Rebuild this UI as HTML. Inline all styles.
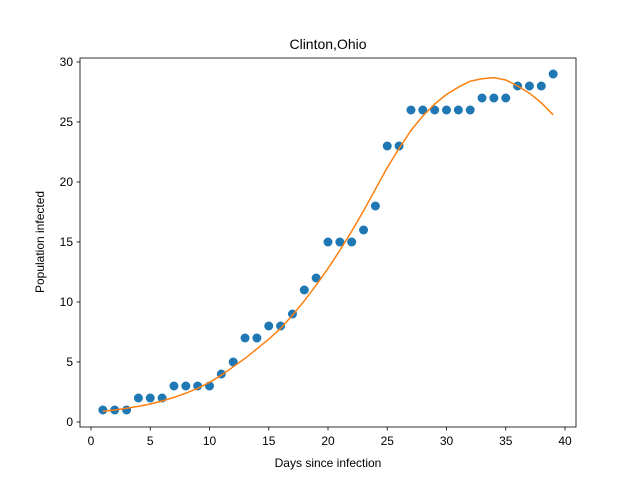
<!DOCTYPE html>
<html><head><meta charset="utf-8"><style>
body{margin:0;background:#fff}
svg{font-family:"Liberation Sans","DejaVu Sans",sans-serif}
</style></head><body>
<svg id="chart" width="640" height="480">
<rect width="640" height="480" fill="#fff"/>
<text x="328" y="49" font-size="14" text-anchor="middle">Clinton,Ohio</text>
<g id="marks"></g>
<rect x="80" y="58" width="496" height="369" fill="none" stroke="#000" stroke-width="0.8"/>
<g id="axes"></g>
<text x="328" y="467" font-size="12" text-anchor="middle">Days since infection</text>
<text transform="translate(44,242) rotate(-90)" font-size="12" text-anchor="middle">Population infected</text>
</svg>
<script>
const days = [1,2,3,4,5,6,7,8,9,10,11,12,13,14,15,16,17,18,19,20,21,22,23,24,25,26,27,28,29,30,31,32,33,34,35,36,37,38,39];
const infected = [1,1,1,2,2,2,3,3,3,3,4,5,7,7,8,8,9,11,12,15,15,15,16,18,23,23,26,26,26,26,26,26,27,27,27,28,28,28,29];
const fitted = [0.9,1.0,1.15,1.3,1.5,1.75,2.05,2.4,2.8,3.3,3.9,4.6,5.3,6.1,6.9,7.8,8.9,10.1,11.4,12.8,14.3,15.9,17.6,19.4,21.2,22.8,24.3,25.5,26.5,27.3,27.9,28.4,28.6,28.7,28.5,28.0,27.4,26.6,25.6];
const xTicks = [0,5,10,15,20,25,30,35,40];
const yTicks = [0,5,10,15,20,25,30];
const X = v => 91 + v*11.85;
const Y = v => 422 - v*12;
const NS = "http://www.w3.org/2000/svg";
const marks = document.getElementById('marks'), axes = document.getElementById('axes');
function mk(tag, attrs, parent){const e=document.createElementNS(NS,tag);for(const k in attrs)e.setAttribute(k,attrs[k]);parent.appendChild(e);return e;}
days.forEach((d,i)=>{
  const c = mk('circle',{cx:X(d),cy:Y(infected[i]),r:4.5,fill:'#1f77b4'},marks);
  
  
});
const line = mk('polyline',{points:days.map((d,i)=>X(d)+','+Y(fitted[i])).join(' '),fill:'none',stroke:'#ff7f0e','stroke-width':1.5},marks);


xTicks.forEach(t=>{
  mk('line',{x1:X(t),x2:X(t),y1:427,y2:430.5,stroke:'#000','stroke-width':0.8},axes);
  const tx = mk('text',{x:X(t),y:445,'font-size':12,'text-anchor':'middle'},axes);
  tx.textContent = t;
  
  
});
yTicks.forEach(t=>{
  mk('line',{x1:76.5,x2:80,y1:Y(t),y2:Y(t),stroke:'#000','stroke-width':0.8},axes);
  const tx = mk('text',{x:73,y:Y(t)+4,'font-size':12,'text-anchor':'end'},axes);
  tx.textContent = t;
  
  
});
</script>
</body></html>
